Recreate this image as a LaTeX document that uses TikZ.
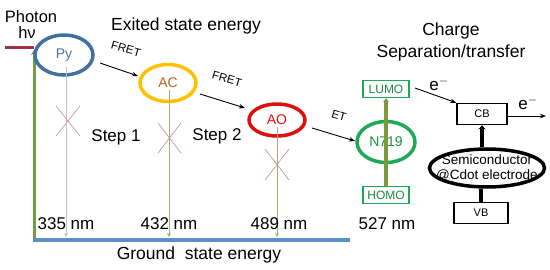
\documentclass[tikz,border=0pt]{standalone}
\usepackage{fontspec}
\setmainfont{Liberation Sans}
\usepackage{xcolor}
\usepackage{tikz}
\usetikzlibrary{positioning,arrows.meta,shapes.geometric}

\definecolor{pyblue}{HTML}{41719C}
\definecolor{pytext}{HTML}{4E7396}
\definecolor{acyellow}{HTML}{FFC000}
\definecolor{acbrown}{HTML}{B8662A}
\definecolor{aored}{HTML}{E01010}
\definecolor{dyegreen}{HTML}{1EAA55}
\definecolor{olive}{HTML}{7A9A3C}
\definecolor{photongreen}{HTML}{6E9E3E}
\definecolor{photonred}{HTML}{A3304A}
\definecolor{groundblue}{HTML}{5B8FCB}
\definecolor{crossred}{HTML}{C99595}
\definecolor{decaygray}{HTML}{B4C6D2}
\definecolor{decayolive}{HTML}{9DB26E}

\begin{document}
\begin{tikzpicture}[
  x=1pt, y=-1pt,
  lvl/.style={ellipse, line width=3.5pt, minimum width=56pt, minimum height=38pt,
              inner sep=0pt, font=\fontsize{14}{14}\selectfont},
  orb/.style={draw=dyegreen, line width=1.4pt, minimum width=46pt, minimum height=17pt,
              inner sep=0pt, text=dyegreen!80!black, font=\fontsize{12}{12}\selectfont},
  band/.style={draw, line width=1.5pt, minimum width=50pt, minimum height=21pt,
               inner sep=0pt, font=\fontsize{11}{11}\selectfont},
  big/.style={font=\fontsize{17.5}{17.5}\selectfont},
  nm/.style={font=\fontsize{17}{17}\selectfont},
  tag/.style={font=\fontsize{11.5}{11.5}\selectfont, inner sep=0pt},
  el/.style={font=\fontsize{17}{17}\selectfont, inner sep=1pt},
  tr/.style={-{Stealth[length=6pt]}, line width=0.9pt},
  decay/.style={-{Stealth[length=4pt, width=4pt]}, line width=0.7pt},
  cross/.style={draw=crossred, line width=0.7pt}
]
  \useasboundingbox (0,0) rectangle (550,270);

  % --- titles
  \node[font=\fontsize{16.5}{16.5}\selectfont] (photon) at (31,17) {Photon};
  \node[font=\fontsize{16.5}{16.5}\selectfont] (hv) at (27,33) {hν};
  \node[big] (exited) at (186,26) {Exited state energy};
  \node[big] (charge) at (451,31) {Charge};
  \node[big] (sep) at (451,53) {Separation/transfer};

  % --- ground state
  \coordinate (g0) at (33,240);
  \coordinate (g1) at (350,240);
  \draw[groundblue, line width=4pt] (g0) -- (g1);
  \node[big] (ground) at (199,255) {Ground\ \ state energy};

  % --- photon input
  \coordinate (ph0) at (5,48);
  \coordinate (ph1) at (34,48);
  \coordinate (ph2) at (34,238);
  \draw[photonred, line width=3pt] (ph0) -- (ph1);
  \draw[photongreen, line width=3pt, -{Stealth[length=5pt, width=6pt]}] (ph2) -- ++(0,-188);

  % --- donor / acceptor levels
  \node[lvl, draw=pyblue, text=pytext, minimum width=58pt, minimum height=40pt] (py) at (64,55) {Py};
  \node[lvl, draw=acyellow, text=acbrown, minimum width=56pt, minimum height=37pt] (ac) at (168,83) {AC};
  \node[lvl, draw=aored, text=aored, minimum height=32pt] (ao) at (277,120) {AO};
  \node[lvl, draw=dyegreen, text=dyegreen!85!black, minimum width=58pt, minimum height=41pt] (dye) at (386,142) {N719};
  \node[orb] (lumo) at (386,89) {LUMO};
  \node[orb] (homo) at (386,195) {HOMO};

  % --- decay to ground
  \draw[decay, decaygray] (66,67) -- (66,237);
  \draw[decay, decayolive] (169,90) -- (169,237);
  \draw[decay, decayolive] (277,127) -- (277,237);

  \draw[cross] (56,106) -- (80,136) (56,136) -- (80,106);
  \draw[cross] (158,123) -- (181,153) (158,153) -- (181,123);
  \draw[cross] (265,149) -- (289,180) (265,180) -- (289,149);

  \node[nm] (step1) at (116,137) {Step 1};
  \node[nm] (step2) at (217,136) {Step 2};

  % --- transfer arrows
  \draw[tr] (100,63) -- (138,76);
  \node[tag, rotate=-16] (fret1) at (126,49) {FRET};
  \draw[tr] (200,94) -- (245,108);
  \node[tag, rotate=-16] (fret2) at (227,79) {FRET};
  \draw[tr] (312,128) -- (355,141);
  \node[tag, rotate=-16] (et) at (339,116) {ET};

  \draw[olive, line width=3.5pt, -{Stealth[length=4pt, width=6pt]}] (homo) -- (lumo);

  \node[nm] (nm1) at (66,224) {335 nm};
  \node[nm] (nm2) at (169,224) {432 nm};
  \node[nm] (nm3) at (279,224) {489 nm};
  \node[nm] (nm4) at (387,224) {527 nm};

  % --- semiconductor
  \node[band] (cb) at (482,114) {CB};
  \node[band, minimum width=54pt] (vb) at (481,213) {VB};
  \node[ellipse, draw, line width=3.5pt, minimum width=115pt, minimum height=38pt,
        inner sep=0pt] (semi) at (487,168) {};
  \node[align=center, font=\fontsize{13.5}{15}\selectfont, inner sep=0pt] (semitext) at (semi)
        {Semiconductor\\@Cdot electrode};

  \draw[line width=3.5pt, -{Stealth[length=4pt, width=7pt]}] (semi.north -| cb) -- (cb);
  \draw[line width=3.5pt] (semi.south -| vb) -- (vb);

  \coordinate (ein) at (415,88);
  \coordinate (eout) at (546,116);
  \draw[tr] (ein) -- (cb.north west);
  \node[el] (e1) at (439,84) {e$^{-}$};
  \draw[tr] (cb.east |- eout) -- (eout);
  \node[el] (e2) at (528,103) {e$^{-}$};
\end{tikzpicture}
\end{document}
